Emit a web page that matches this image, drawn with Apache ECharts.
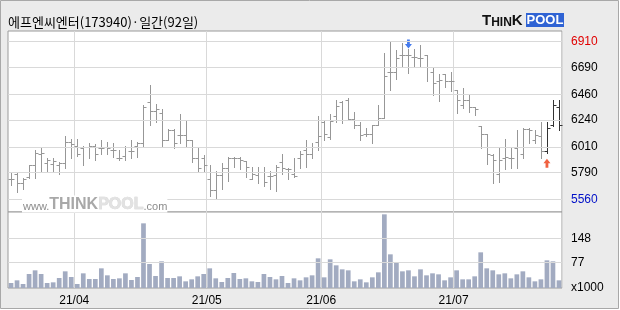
<!DOCTYPE html>
<html><head><meta charset="utf-8">
<script src="https://cdn.jsdelivr.net/npm/echarts@6/dist/echarts.min.js"></script>
<style>html,body{margin:0;padding:0;background:#fff}#c{width:620px;height:310px}</style>
</head><body><div id="c"></div>
<script>
const titleText = '에프엔씨엔터(173940)·일간(92일)';
const dates = [
 '2021-03-17','2021-03-18','2021-03-19','2021-03-22','2021-03-23','2021-03-24','2021-03-25','2021-03-26','2021-03-29','2021-03-30','2021-03-31',
 '2021-04-01','2021-04-02','2021-04-05','2021-04-06','2021-04-07','2021-04-08','2021-04-09','2021-04-12','2021-04-13','2021-04-14','2021-04-15','2021-04-16','2021-04-19','2021-04-20','2021-04-21','2021-04-22','2021-04-23','2021-04-26','2021-04-27','2021-04-28','2021-04-29','2021-04-30',
 '2021-05-03','2021-05-04','2021-05-06','2021-05-07','2021-05-10','2021-05-11','2021-05-12','2021-05-13','2021-05-14','2021-05-17','2021-05-18','2021-05-20','2021-05-21','2021-05-24','2021-05-25','2021-05-26','2021-05-27','2021-05-28','2021-05-31',
 '2021-06-01','2021-06-02','2021-06-03','2021-06-04','2021-06-07','2021-06-08','2021-06-09','2021-06-10','2021-06-11','2021-06-14','2021-06-15','2021-06-16','2021-06-17','2021-06-18','2021-06-21','2021-06-22','2021-06-23','2021-06-24','2021-06-25','2021-06-28','2021-06-29','2021-06-30',
 '2021-07-01','2021-07-02','2021-07-05','2021-07-06','2021-07-07','2021-07-08','2021-07-09','2021-07-12','2021-07-13','2021-07-14','2021-07-15','2021-07-16','2021-07-19','2021-07-20','2021-07-21','2021-07-22','2021-07-23','2021-07-26'
];
const opens = [5730,5780,5700,5750,5850,5950,5870,5860,5850,5870,
 6050,6020,6000,6010,6020,6000,6010,5980,5910,5930,
 5970,6020,6040,6390,6320,6300,6070,6150,6110,6110,
 6070,5910,5910,5730,5640,5770,5830,5910,5910,5890,
 5730,5770,5790,5760,5770,5880,5820,5780,5910,5980,
 5950,6050,6220,6090,6270,6390,6410,6250,6200,6120,
 6120,6200,6260,6650,6650,6800,6800,6780,6770,6800,
 6650,6570,6630,6570,6500,6370,6410,6350,6190,6120,
 5940,5780,5910,5910,6000,5950,6160,6070,6100,5970,
 6200,6350];
const highs = [5790,5790,5740,5850,5980,6010,5910,5910,5880,6100,
 6080,6080,6020,6040,6030,6070,6050,6040,5980,6020,
 6070,6050,6370,6540,6380,6330,6160,6160,6290,6230,
 6070,6010,5940,5850,5800,5870,5920,5920,5920,5890,
 5840,5840,5840,5800,5850,5950,5830,5910,5970,6070,
 6040,6270,6230,6290,6410,6400,6430,6310,6220,6170,
 6200,6370,6810,6910,6840,6900,6850,6850,6880,6800,
 6690,6630,6630,6650,6500,6510,6460,6350,6190,6120,
 5950,6000,6080,6000,6150,6170,6170,6150,6220,6220,
 6410,6410];
const lows = [5680,5620,5650,5740,5740,5800,5800,5790,5780,5830,
 5910,5930,5850,5910,5900,5950,5950,5920,5900,5900,
 5910,5920,6020,6200,6220,6010,6070,6000,6040,6010,
 5880,5800,5800,5590,5560,5650,5720,5840,5820,5750,
 5730,5700,5670,5650,5630,5780,5730,5750,5830,5840,
 5910,5980,6070,6080,6220,6210,6240,6170,6070,6100,
 6040,6200,6260,6500,6590,6690,6640,6700,6700,6570,
 6450,6400,6520,6490,6300,6340,6310,6280,6000,5860,
 5700,5710,5820,5830,5830,5910,6040,6040,5910,5960,
 6190,6150];
const closes = [5730,5700,5730,5850,5960,5960,5900,5890,5870,6050,
 6030,5950,6010,6020,5950,6000,6000,5980,5910,6010,
 5970,6040,6350,6320,6330,6070,6150,6040,6110,6070,
 5910,5830,5850,5640,5770,5830,5910,5910,5900,5840,
 5780,5790,5710,5760,5840,5830,5820,5760,5950,5950,
 6010,6100,6120,6230,6360,6240,6250,6200,6110,6120,
 6200,6260,6620,6650,6770,6800,6800,6780,6770,6690,
 6560,6580,6570,6570,6410,6410,6350,6330,6120,5950,
 5900,5900,5920,5910,6010,6160,6150,6110,5970,6170,
 6370,6200];
const volumes = [15,23,12,42,53,42,15,17,30,50,33,12,44,27,27,59,38,27,29,44,
 24,33,194,72,36,80,30,30,35,20,26,35,42,59,29,18,30,45,27,29,
 20,18,42,33,26,36,15,29,23,32,38,89,32,86,68,56,53,20,26,17,
 32,47,221,101,77,50,53,35,56,38,44,41,23,32,53,26,26,35,107,59,
 53,41,44,29,41,50,32,20,26,83,80,23];
const priceTicks = [5560,5790,6010,6240,6460,6690,6910];
const volumeTicks = [77,148];
const volumeUnit = 'x1000';
const darkFrom = 89;
const sellSignal = [66, 6890];
const buySignal = [89, 5868];

const monthStart = dates.map((d,i)=> i>0 && d.slice(5,7)!==dates[i-1].slice(5,7));
const axisFont = "'Liberation Sans Narrow','Liberation Sans',Arial,sans-serif";
const grid = '#d9d9d9';

const chart = echarts.init(document.getElementById('c'), null, {renderer:'canvas'});
const priceMark = priceTicks.map((v,k)=>({
  yAxis: v,
  label: {color: k===priceTicks.length-1 ? '#e00000' : (k===0 ? '#0010c8' : '#000')}
}));
const volMark = volumeTicks.map(v=>({yAxis:v})).concat([{yAxis:0, lineStyle:{color:'rgba(255,255,255,0)'}, label:{formatter: volumeUnit, color:'#000'}}]);

chart.setOption({
  animation:false,
  backgroundColor:'#fff',
  grid:[
    {left:8, right:58, top:31, height:181, show:true, backgroundColor:'#fff', borderColor:'#9a9a9a', borderWidth:1},
    {left:8, right:58, top:212, height:76, show:true, backgroundColor:'#fff', borderColor:'#9a9a9a', borderWidth:1}
  ],
  xAxis:[
    {type:'category', gridIndex:0, data:dates, boundaryGap:true, axisLine:{show:false}, axisTick:{show:false}, axisLabel:{show:false},
     splitLine:{show:true, interval:(i)=>monthStart[i]===true, lineStyle:{color:grid, width:1}}},
    {type:'category', gridIndex:1, data:dates, boundaryGap:true, axisLine:{show:false}, axisTick:{show:false},
     axisLabel:{show:true, interval:(i)=>monthStart[i]===true, margin:7, color:'#000', fontSize:12, fontFamily:"'Liberation Sans',Arial,sans-serif", padding:[0,6,0,0],
       formatter:(v)=> v.slice(2,4)+'/'+v.slice(5,7)},
     splitLine:{show:true, interval:(i)=>monthStart[i]===true, lineStyle:{color:grid, width:1}}}
  ],
  yAxis:[
    {type:'value', gridIndex:0, min:5451, max:7002, show:false},
    {type:'value', gridIndex:1, min:0, max:228, show:false}
  ],
  series:[
    {type:'line', xAxisIndex:0, yAxisIndex:0, data:closes, showSymbol:false, silent:true, z:1, lineStyle:{opacity:0, width:0},
     markLine:{silent:true, symbol:['none','none'], animation:false,
       lineStyle:{color:grid, type:'solid', width:1},
       label:{show:true, position:'end', distance:9, fontSize:12, fontFamily:axisFont, formatter:(p)=>String(p.value)},
       data:priceMark}},
    {type:'custom', xAxisIndex:0, yAxisIndex:0, z:3,
     data: dates.map((d,i)=>[i, opens[i], closes[i], lows[i], highs[i]]),
     encode:{x:0, y:[1,2,3,4]},
     renderItem:function(params, api){
       const i = api.value(0);
       const o = api.coord([i, api.value(1)]);
       const c = api.coord([i, api.value(2)]);
       const l = api.coord([i, api.value(3)]);
       const h = api.coord([i, api.value(4)]);
       const x = Math.round(o[0]) + 0.5;
       const yo = Math.round(o[1]) + 0.5, yc = Math.round(c[1]) + 0.5;
       const col = i >= darkFrom ? '#333' : '#979797';
       const st = {stroke:col, lineWidth:1};
       return {type:'group', children:[
         {type:'line', shape:{x1:x, y1:Math.round(h[1]), x2:x, y2:Math.round(l[1])+1}, style:st},
         {type:'line', shape:{x1:x-3, y1:yo, x2:x, y2:yo}, style:st},
         {type:'line', shape:{x1:x, y1:yc, x2:x+3, y2:yc}, style:st}
       ]};
     }},
    {type:'scatter', xAxisIndex:0, yAxisIndex:0, z:4, silent:true,
     data:[
       {value:sellSignal, symbol:'path://M3,0L7,0L7,5L10,5L5,10L0,5L3,5Z', symbolSize:[7,9], itemStyle:{color:'#1559e8'}},
       {value:buySignal, symbol:'path://M5,0L10,5L7,5L7,10L3,10L3,5L0,5Z', symbolSize:[7,9], itemStyle:{color:'#ec3a10'}}
     ]},
    {type:'line', xAxisIndex:1, yAxisIndex:1, data:volumes, showSymbol:false, silent:true, z:1, lineStyle:{opacity:0, width:0},
     markLine:{silent:true, symbol:['none','none'], animation:false,
       lineStyle:{color:grid, type:'solid', width:1},
       label:{show:true, position:'end', distance:9, fontSize:12, fontFamily:axisFont, color:'#000', formatter:(p)=>String(p.value)},
       data:volMark}},
    {type:'bar', xAxisIndex:1, yAxisIndex:1, data:volumes, barWidth:'78%', z:2, silent:true,
     itemStyle:{color:'#a2abc1'}}
  ],
  graphic:{elements:[
    {type:'rect', z:-100, silent:true, shape:{x:0.5, y:0.5, width:618, height:308}, style:{fill:'#ebebeb', stroke:'#a8a8a8', lineWidth:1}},
    {type:'text', z:100, x:8, y:22, style:{text:titleText, fill:'#000', font:'13px "Noto Sans CJK KR"', verticalAlign:'middle', align:'left'}},
    {type:'text', z:100, x:482, y:21, style:{text:'{a|T}{b|HIN}{a|K}', verticalAlign:'middle', align:'left',
       rich:{a:{fontSize:15, fontWeight:'bold', fontFamily:'Liberation Sans', fill:'#111', verticalAlign:'bottom'},
             b:{fontSize:12, fontWeight:'bold', fontFamily:'Liberation Sans', fill:'#111', verticalAlign:'bottom'}}}},
    {type:'rect', z:100, shape:{x:526, y:13, width:38, height:14}, style:{fill:'#2f63d4'}},
    {type:'text', z:101, x:545, y:20.5, style:{text:'POOL', fill:'#fff', font:'bold 13px "Liberation Sans"', verticalAlign:'middle', align:'center'}},
    {type:'text', z:100, x:22, y:204, style:{text:'{w|www.}{t|THINK}{p|POOL}{c|.com}', verticalAlign:'middle', align:'left', backgroundColor:'#fff', padding:[1,0,0,1],
       rich:{w:{fontSize:11, fontFamily:'Liberation Sans', fill:'#8c8c8c', verticalAlign:'bottom'},
             t:{fontSize:16, fontWeight:'bold', fontFamily:'Liberation Sans', fill:'#a8a8a8', verticalAlign:'bottom'},
             p:{fontSize:16, fontWeight:'bold', fontFamily:'Liberation Sans', fill:'#e2e2e2', stroke:'#cfcfcf', lineWidth:0.6, verticalAlign:'bottom'},
             c:{fontSize:11, fontFamily:'Liberation Sans', fill:'#8c8c8c', verticalAlign:'bottom'}}}}
  ]}
});
</script></body></html>
